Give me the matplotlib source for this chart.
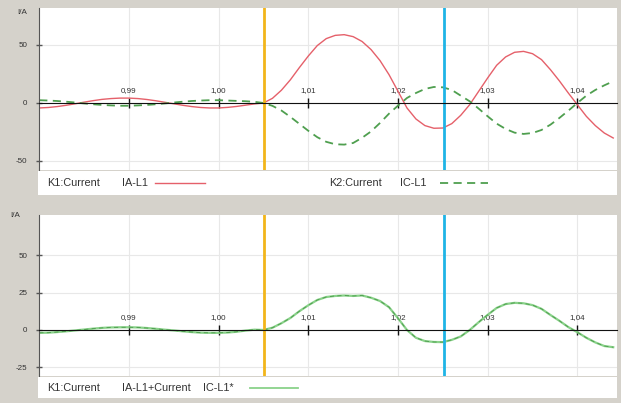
import numpy as np
import matplotlib
matplotlib.use("Agg")
import matplotlib.pyplot as plt
from matplotlib.lines import Line2D
from matplotlib.patches import Rectangle
from matplotlib.ticker import FuncFormatter

plt.rcParams["font.family"] = ["Liberation Sans", "DejaVu Sans"]
plt.rcParams["axes.unicode_minus"] = False

# time axis in seconds, 1 ms samples
t = np.round(np.arange(0.980, 1.0445, 0.001), 3)

# K1:Current IA-L1 (A)
ia_l1 = [-4.3, -3.9, -3.1, -2.0, -0.7, 0.7, 2.0, 3.1, 3.8, 4.2,
         4.2, 3.8, 3.0, 1.9, 0.6, -0.7, -2.0, -3.1, -3.9, -4.3,
         -4.3, -3.8, -3.0, -1.9, -0.8, 0.0,
         4.0, 11.0, 20.0, 30.5, 40.5, 49.5, 55.5, 58.3, 58.9, 57.2,
         53.0, 46.0, 36.5, 24.4, 10.1, -4.3, -13.8, -19.5, -21.8, -21.6,
         -17.8, -10.6, -1.4, 10.1, 21.6, 32.5, 39.7, 43.7, 44.5, 42.5,
         37.4, 28.7, 19.0, 8.5, -1.5, -11.5, -19.5, -25.9, -30.2]

# K2:Current IC-L1 (A)
ic_l1 = [2.4, 2.1, 1.7, 1.1, 0.4, -0.4, -1.1, -1.7, -2.1, -2.4,
         -2.4, -2.1, -1.7, -1.1, -0.4, 0.4, 1.1, 1.7, 2.1, 2.4,
         2.4, 2.1, 1.8, 1.5, 1.0, 0.0,
         -2.5, -6.5, -12.0, -18.0, -24.0, -29.5, -33.5, -35.6, -35.9, -34.5,
         -30.0, -24.5, -17.2, -9.2, -2.3, 4.3, 8.6, 12.1, 13.8, 13.5,
         11.2, 6.3, 1.4, -4.9, -11.5, -17.8, -22.4, -25.6, -26.7, -25.9,
         -23.3, -18.7, -12.9, -6.6, 0.0, 6.3, 11.2, 15.2, 18.7]

# lower panel: IA-L1 + IC-L1
ia_plus_ic = np.array(ia_l1) + np.array(ic_l1)

x_ticks = [0.99, 1.00, 1.01, 1.02, 1.03, 1.04]
top_yticks = [-50, 0, 50]
bottom_yticks = [-25, 0, 25, 50]
cursor_1 = 1.0051
cursor_2 = 1.0251

W, H = 621, 403
fig = plt.figure(figsize=(W / 100, H / 100), dpi=100)
fig.patch.set_facecolor("#d5d2cb")


def rect(x0, y0, x1, y1):
    return [x0 / W, 1 - y1 / H, (x1 - x0) / W, (y1 - y0) / H]


def fx(x):
    return x / W


def fy(y):
    return 1 - y / H


def setup(ax, ylim, yticks):
    ax.set_xlim(0.97997, 1.04442)
    ax.set_ylim(*ylim)
    ax.set_facecolor("white")
    ax.spines["right"].set_visible(False)
    ax.spines["bottom"].set_visible(False)
    ax.spines["left"].set_color("#555555")
    ax.spines["top"].set_position(("data", 0))
    ax.spines["top"].set_color("#111111")
    ax.xaxis.set_ticks_position("top")
    ax.set_xticks(x_ticks)
    ax.xaxis.set_major_formatter(
        FuncFormatter(lambda v, p: f"{v:.2f}".replace(".", ",")))
    ax.tick_params(axis="x", direction="inout", length=7.5, width=1,
                   color="#111111", labelsize=5.8, pad=3,
                   labelcolor="#333333")
    ax.set_yticks(yticks)
    ax.tick_params(axis="y", direction="inout", length=5, width=1,
                   color="#555555", labelsize=5.8, pad=6,
                   labelcolor="#333333")
    ax.grid(True, color="#e8e8e8", lw=0.8)
    ax.set_axisbelow(True)


ax1 = fig.add_axes(rect(39, 8, 617, 170))
setup(ax1, (-57.8, 81.9), top_yticks)
ax1.plot(t, ia_l1, color="#e5606a", lw=1.0, solid_joinstyle="round")
ax1.plot(t, ic_l1, color="#4f9f4f", lw=1.3, dashes=(4.5, 3))
ax1.axvline(cursor_1, color="#f2b51a", lw=2)
ax1.axvline(cursor_2, color="#1fb4e6", lw=2)

ax2 = fig.add_axes(rect(39, 215, 617, 376))
setup(ax2, (-30.7, 76.7), bottom_yticks)
ax2.plot(t, ia_plus_ic, color="#8ad28a", lw=1.6, solid_joinstyle="round")
ax2.plot(t, ia_plus_ic, color="#4a9a4a", lw=0.6, dashes=(5, 4))
ax2.axvline(cursor_1, color="#f2b51a", lw=2)
ax2.axvline(cursor_2, color="#1fb4e6", lw=2)

# legend strips
for y0, y1 in [(171, 195), (377, 398)]:
    fig.add_artist(Rectangle((fx(38), fy(y1)), (617 - 38) / W, (y1 - y0) / H,
                             transform=fig.transFigure, facecolor="white",
                             edgecolor="none"))

txt = dict(fontsize=7.8, color="#333333", va="center")
fig.text(fx(47), fy(183), "K1:Current", **txt)
fig.text(fx(122), fy(183), "IA-L1", **txt)
fig.add_artist(Line2D([fx(155), fx(205)], [fy(183)] * 2, color="#e5606a", lw=1.0))
fig.text(fx(329), fy(183), "K2:Current", **txt)
fig.text(fx(400), fy(183), "IC-L1", **txt)
fig.add_artist(Line2D([fx(440), fx(488)], [fy(183)] * 2, color="#4f9f4f",
                      lw=1.3, dashes=(4.5, 3)))

fig.text(fx(47), fy(388), "K1:Current", **txt)
fig.text(fx(122), fy(388), "IA-L1+Current", **txt)
fig.text(fx(203), fy(388), "IC-L1*", **txt)
fig.add_artist(Line2D([fx(250), fx(298)], [fy(388)] * 2, color="#8ad28a", lw=1.3))

fig.text(fx(22), fy(12), "I/A", fontsize=5.8, color="#333333",
         ha="center", va="center")
fig.text(fx(15), fy(216), "I/A", fontsize=5.8, color="#333333",
         ha="center", va="center")

fig.savefig("out.png", dpi=100, facecolor=fig.get_facecolor())
